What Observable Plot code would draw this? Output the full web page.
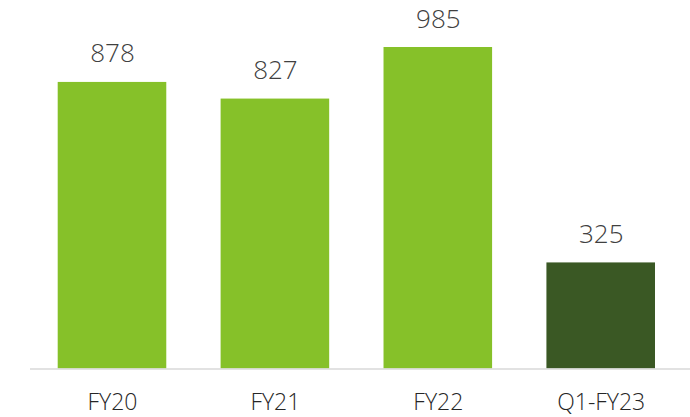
<!DOCTYPE html>
<html>
<head>
<meta charset="utf-8">
<script src="https://cdn.jsdelivr.net/npm/d3@7"></script>
<script src="https://cdn.jsdelivr.net/npm/@observablehq/plot@0.6"></script>
<style>
  html, body { margin: 0; padding: 0; background: #fff; }
  #chart svg { display: block; }
</style>
</head>
<body>
<div id="chart"></div>
<script>
const categories = ["FY20", "FY21", "FY22", "Q1-FY23"];
const values = [878, 827, 985, 325];
const barColors = ["#86C129", "#86C129", "#86C129", "#3A5824"];

const data = categories.map((c, i) => ({category: c, value: values[i], color: barColors[i]}));

const chart = Plot.plot({
  width: 690,
  height: 417,
  marginTop: 47,
  marginBottom: 48.5,
  marginLeft: 30,
  marginRight: 0,
  style: {fontFamily: "'Open Sans', sans-serif", background: "#fff"},
  x: {domain: categories, range: [57.7, 655], paddingInner: 0.3335, paddingOuter: 0, round: false},
  y: {domain: [0, 985], axis: null},
  color: {type: "identity"},
  marks: [
    Plot.barY(data, {x: "category", y: "value", fill: "color"}),
    Plot.ruleY([0], {stroke: "#D9D9D9", strokeWidth: 1.5}),
    Plot.text(data, {x: "category", y: "value", text: d => String(d.value), lineAnchor: "bottom", dy: -20, fontSize: 26, fill: "#404040", fontWeight: 300}),
    Plot.axisX({tickSize: 0, tickPadding: 24.5, fontSize: 23, fill: "#262626", fontWeight: 300, label: null})
  ]
});
document.getElementById("chart").appendChild(chart);
</script>
</body>
</html>
